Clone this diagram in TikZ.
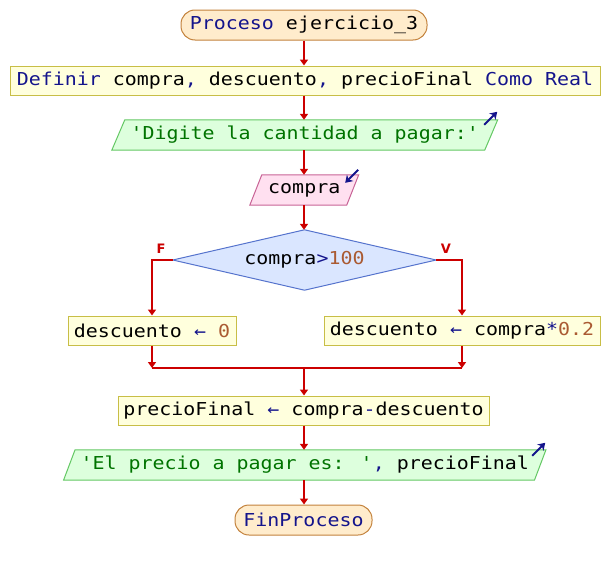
\documentclass[tikz,border=0pt]{standalone}
\usepackage{fontspec}
\usetikzlibrary{shapes.geometric,arrows.meta,backgrounds,calc}
\newfontfamily\codefont[FakeStretch=1.12,Ligatures=TeXOff]{DejaVu Sans Mono}
\newfontfamily\lblfont{DejaVu Sans}
\definecolor{kwc}{RGB}{20,20,140}
\definecolor{strc}{RGB}{0,115,0}
\definecolor{numc}{RGB}{170,90,50}
\definecolor{flowred}{RGB}{204,0,0}
\definecolor{termf}{RGB}{255,236,204}
\definecolor{termb}{RGB}{195,130,60}
\definecolor{procf}{RGB}{255,255,221}
\definecolor{procb}{RGB}{200,190,70}
\definecolor{outf}{RGB}{221,255,221}
\definecolor{outb}{RGB}{100,200,100}
\definecolor{inf}{RGB}{255,224,240}
\definecolor{inb}{RGB}{200,100,150}
\definecolor{decf}{RGB}{218,230,255}
\definecolor{decb}{RGB}{85,115,205}
\newcommand{\kwd}[1]{\textcolor{kwc}{#1}}
\newcommand{\strg}[1]{\textcolor{strc}{#1}}
\newcommand{\numb}[1]{\textcolor{numc}{#1}}
\newcommand{\parashape}[3]{\path[#2] ([xshift=#3]#1.north west) -- ([xshift=#3]#1.north east) -- ([xshift=-#3]#1.south east) -- ([xshift=-#3]#1.south west) -- cycle;}
\begin{document}
\begin{tikzpicture}[x=1pt,y=-1pt,
  font=\codefont\fontsize{17.8}{20}\selectfont,
  flow/.style={draw=flowred, line width=1.8pt, -{Triangle[width=8pt,length=6pt]}},
  plainline/.style={draw=flowred, line width=1.8pt},
  term/.style={draw=termb, fill=termf, rounded corners=14pt, line width=1pt, minimum height=30pt, inner sep=0pt},
  proc/.style={draw=procb, fill=procf, line width=1pt, minimum height=29pt, inner sep=0pt},
  para/.style={minimum height=30pt, inner sep=0pt},
  outp/.style={draw=outb, fill=outf, line width=1pt},
  inp/.style={draw=inb, fill=inf, line width=1pt},
  decbox/.style={minimum width=263pt, minimum height=60pt, inner sep=0pt},
  decp/.style={draw=decb, fill=decf, line width=1pt},
  icon/.style={draw=kwc, line width=1.8pt, -{Stealth[length=7pt,width=9pt]}},
  brlabel/.style={text=flowred, font=\lblfont\bfseries\fontsize{13}{13}\selectfont, inner sep=0pt}
]
\useasboundingbox (0,0) rectangle (610,570);

\node[term, minimum width=246pt] (start) at (304,25) {\kwd{Proceso} ejercicio\_3};
\node[proc, minimum width=590pt] (def) at (305,80.5) {\kwd{Definir} compra\kwd{,} descuento\kwd{,} precioFinal \kwd{Como Real}};
\node[para, minimum width=372.5pt] (out1) at (304.75,135) {\strg{'Digite la cantidad a pagar:'}};
\node[para, minimum width=96.5pt] (in1) at (304.25,190) {compra};
\node[decbox] (dia) at (304.5,260) {compra\kwd{>}\numb{100}};
\node[proc, minimum width=168pt] (left) at (152,330.5) {descuento \kwd{←} \numb{0}};
\node[proc, minimum width=276pt] (right) at (462,330.5) {descuento \kwd{←} compra\kwd{*}\numb{0.2}};
\node[proc, minimum width=371pt] (pf) at (303.5,410.5) {precioFinal \kwd{←} compra\kwd{-}descuento};
\node[para, minimum width=470.5pt] (out2) at (304.75,465) {\strg{'El precio a pagar es: '}\kwd{,} precioFinal};
\node[term, minimum width=137pt] (end) at (303.5,520) {\kwd{FinProceso}};

\begin{scope}[on background layer]
  \parashape{out1}{outp}{6.5pt}
  \parashape{in1}{inp}{6pt}
  \parashape{out2}{outp}{5.75pt}
  \path[decp] (dia.north) -- (dia.east) -- (dia.south) -- (dia.west) -- cycle;
\end{scope}

\node[brlabel] (lf) at (161,249) {F};
\node[brlabel] (lv) at (446,249) {V};

\coordinate (spine) at (304,0);
\coordinate (joinL) at (left.south |- 0,368);
\coordinate (joinR) at (right.south |- 0,368);
\coordinate (joinC) at (spine |- 0,368);

\draw[flow] (spine |- start.south) -- (spine |- def.north);
\draw[flow] (spine |- def.south) -- (spine |- out1.north);
\draw[flow] (spine |- out1.south) -- (spine |- in1.north);
\draw[flow] (spine |- in1.south) -- (spine |- dia.north);
\draw[flow] (dia.west) -| (left.north);
\draw[flow] (dia.east) -| (right.north);
\draw[flow] (left.south) -- (joinL);
\draw[flow] (right.south) -- (joinR);
\draw[plainline] (joinL) -- (joinR);
\draw[flow] (joinC) -- (spine |- pf.north);
\draw[flow] (spine |- pf.south) -- (spine |- out2.north);
\draw[flow] (spine |- out2.south) -- (spine |- end.north);

\coordinate (i1a) at ($(out1.north east)+(-7,5)$);
\coordinate (i1b) at ($(out1.north east)+(6,-8)$);
\draw[icon] (i1a) -- (i1b);
\coordinate (i2a) at ($(in1.north east)+(5.5,-5)$);
\coordinate (i2b) at ($(in1.north east)+(-7.5,8)$);
\draw[icon] (i2a) -- (i2b);
\coordinate (i3a) at ($(out2.north east)+(-8,6)$);
\coordinate (i3b) at ($(out2.north east)+(5,-7)$);
\draw[icon] (i3a) -- (i3b);
\end{tikzpicture}
\end{document}
